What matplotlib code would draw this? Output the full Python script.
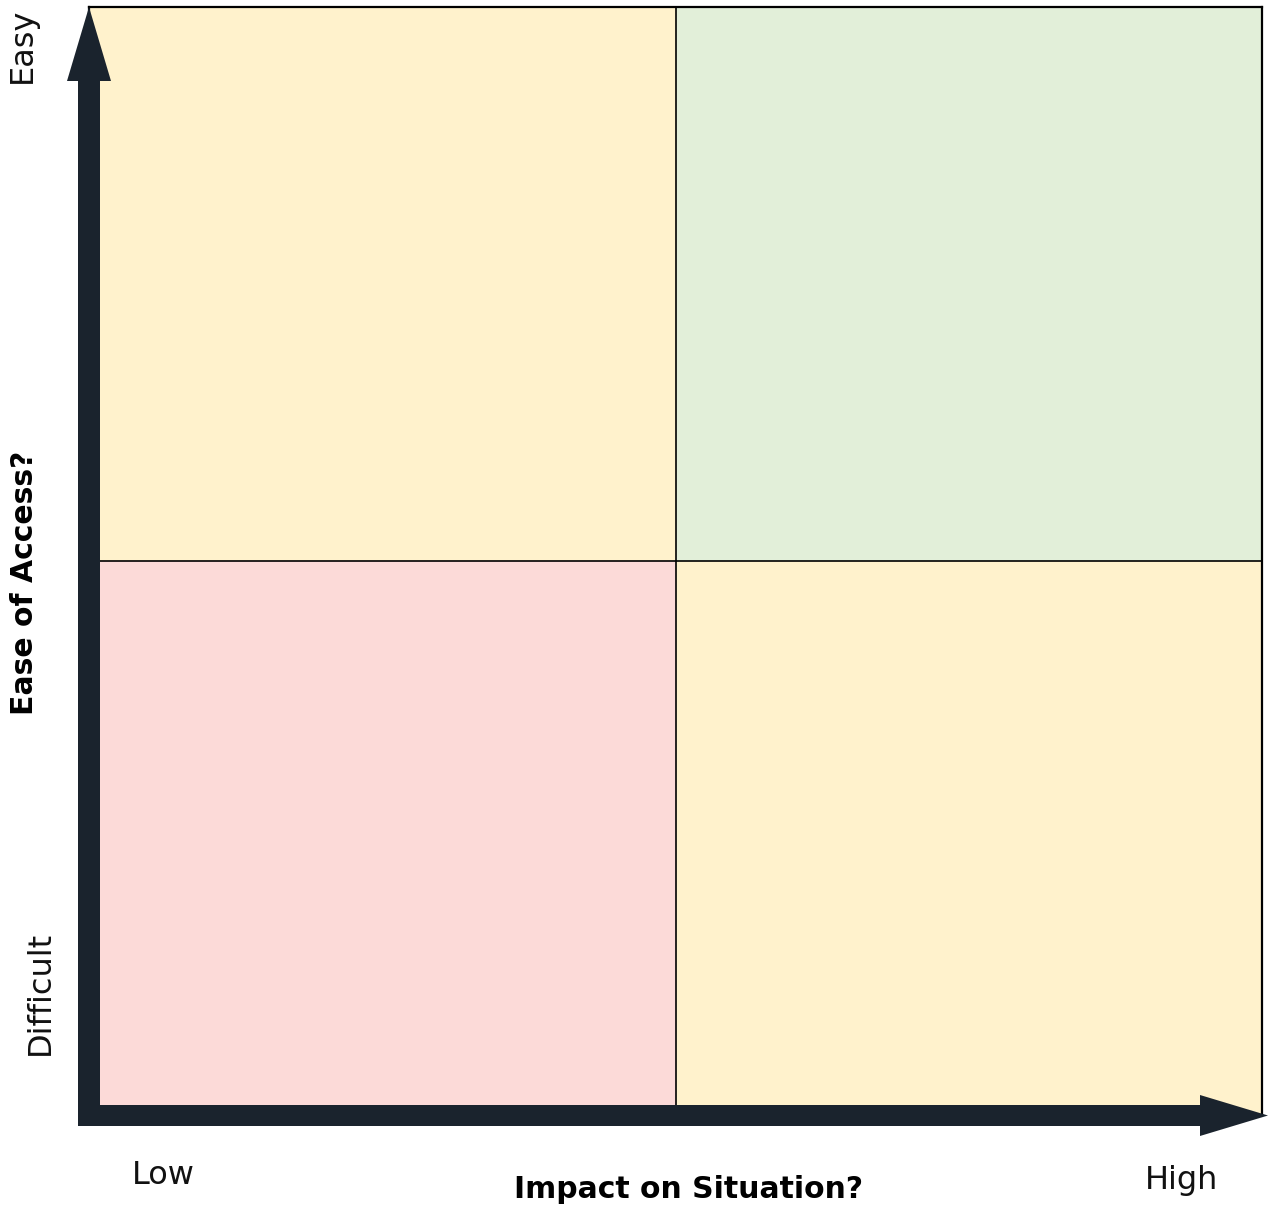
import matplotlib
matplotlib.use("Agg")
import matplotlib.pyplot as plt
from matplotlib.patches import Rectangle, FancyArrow

# Data
quadrant_x = [0, 1, 0, 1]
quadrant_y = [1, 1, 0, 0]
quadrant_colors = ["#FFF2CC", "#E2EFD9", "#FCDAD8", "#FFF2CC"]
x_axis_label = "Impact on Situation?"
y_axis_label = "Ease of Access?"
x_tick_labels = ["Low", "High"]
y_tick_labels = ["Difficult", "Easy"]

W, H = 1270, 1206
fig = plt.figure(figsize=(W / 100, H / 100), dpi=100)
plt.rcParams['font.family'] = ['DejaVu Sans']

# main quadrant axes (pixel geometry)
L, R, T, B = 89, 1262, 7, 1115
ax = fig.add_axes([L / W, 1 - B / H, (R - L) / W, (B - T) / H])
for qx, qy, c in zip(quadrant_x, quadrant_y, quadrant_colors):
    ax.add_patch(Rectangle((qx, qy), 1, 1, facecolor=c, edgecolor="none"))
ax.axvline(1, color="black", lw=1.2)
ax.axhline(1, color="black", lw=1.2)
ax.set_xlim(0, 2)
ax.set_ylim(0, 2)
ax.set_xticks([])
ax.set_yticks([])
for s in ax.spines.values():
    s.set_linewidth(1.6)
    s.set_color("black")

# overlay axes for arrows and labels, in pixel coordinates
ov = fig.add_axes([0, 0, 1, 1], facecolor="none")
ov.set_xlim(0, W)
ov.set_ylim(H, 0)
ov.axis("off")
arrow_color = "#1A232D"
ov.add_patch(FancyArrow(89, 1126, 0, -1119, width=22, head_width=44, head_length=74,
                        length_includes_head=True, color=arrow_color, lw=0))
ov.add_patch(FancyArrow(78, 1115.5, 1190, 0, width=21, head_width=41, head_length=68,
                        length_includes_head=True, color=arrow_color, lw=0))

reg = 23
bold = 21.5
ov.text(22, 45, y_tick_labels[1], rotation=90, ha="center", va="center", fontsize=reg, color="#111111")
ov.text(40, 993, y_tick_labels[0], rotation=90, ha="center", va="center", fontsize=reg, color="#111111")
ov.text(25, 583, y_axis_label, rotation=90, ha="center", va="center", fontsize=bold, fontweight="bold")
ov.text(163, 1176, x_tick_labels[0], ha="center", va="center", fontsize=reg, color="#111111")
ov.text(1182, 1180, x_tick_labels[1], ha="center", va="center", fontsize=reg, color="#111111")
ov.text(689, 1189, x_axis_label, ha="center", va="center", fontsize=bold, fontweight="bold")

fig.savefig("out.png", dpi=100)
